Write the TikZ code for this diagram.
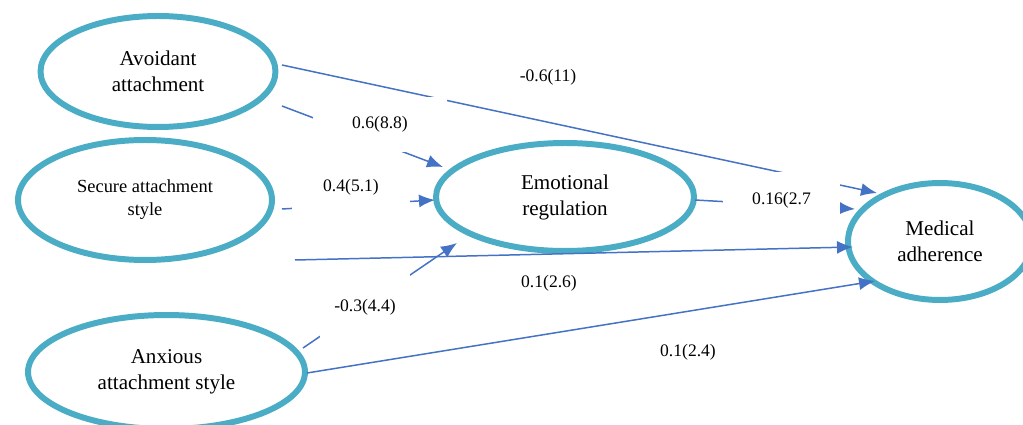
\documentclass[tikz,border=0pt]{standalone}
\usepackage{fontspec}
\setmainfont{Liberation Serif}
\usetikzlibrary{arrows.meta,shapes.geometric}
\definecolor{ovalblue}{RGB}{75,172,198}
\definecolor{pathblue}{RGB}{68,114,196}

\begin{document}
\begin{tikzpicture}[x=0.02cm, y=-0.02cm,
  oval/.style={draw=ovalblue, line width=3.4pt, ellipse, inner sep=0pt, align=center, font=\fontsize{12}{14.8}\selectfont},
  effect/.style={-{Latex[length=3.2mm, width=2.6mm]}, draw=pathblue, line width=0.85pt},
  coef/.style={fill=white, inner sep=1pt, font=\fontsize{10}{12}\selectfont}]
  \clip (0,0) rectangle (1023,425);
  \node[oval, minimum width=4.7cm, minimum height=2.22cm] (avoid) at (158,71.5) {Avoidant\\attachment};
  \node[oval, minimum width=5.08cm, minimum height=2.4cm, font=\fontsize{10.5}{13}\selectfont] (secure) at (145,200) {Secure attachment\\style};
  \node[oval, minimum width=5.54cm, minimum height=2.28cm] (anxious) at (166.5,372) {Anxious\\attachment style};
  \node[oval, minimum width=5.16cm, minimum height=2.16cm] (emotion) at (565,197) {Emotional\\regulation};
  \node[oval, minimum width=3.68cm, minimum height=2.34cm] (adherence) at (940,241.5) {Medical\\adherence};

  \draw[effect] ([shift={(124,-6.5)}]avoid.center) -- ([shift={(-63,-48.5)}]adherence.center);
  \draw[effect] ([shift={(124,34.5)}]avoid.center) -- ([shift={(-122,-30)}]emotion.center);
  \draw[effect] ([shift={(137,9)}]secure.center) -- ([shift={(-130,3)}]emotion.center);
  \draw[effect] ([shift={(150,60)}]secure.center) -- ([shift={(-87,5.5)}]adherence.center);
  \draw[effect] ([shift={(136.5,-24)}]anxious.center) -- ([shift={(-108,46)}]emotion.center);
  \draw[effect] ([shift={(140.5,1)}]anxious.center) -- ([shift={(-65,39.5)}]adherence.center);
  \draw[effect] ([shift={(130,3)}]emotion.center) -- ([shift={(-85,-32.5)}]adherence.center);

  \node[coef] (c1) at (548,77) {-0.6(11)};
  \node[coef, minimum width=2.68cm, minimum height=1.1cm] (c2) at (380,124.5) {0.6(8.8)};
  \node[coef, minimum width=2.36cm, minimum height=1.08cm] (c3) at (351,187) {0.4(5.1)};
  \node[coef, minimum width=2.34cm, minimum height=1.12cm] (c4) at (781.5,200) {0.16(2.7};
  \node[coef] (c5) at (549,283) {0.1(2.6)};
  \node[coef, minimum width=1.8cm, minimum height=1.32cm] (c6) at (365,307) {-0.3(4.4)};
  \node[coef] (c7) at (688,352) {0.1(2.4)};
\end{tikzpicture}
\end{document}
